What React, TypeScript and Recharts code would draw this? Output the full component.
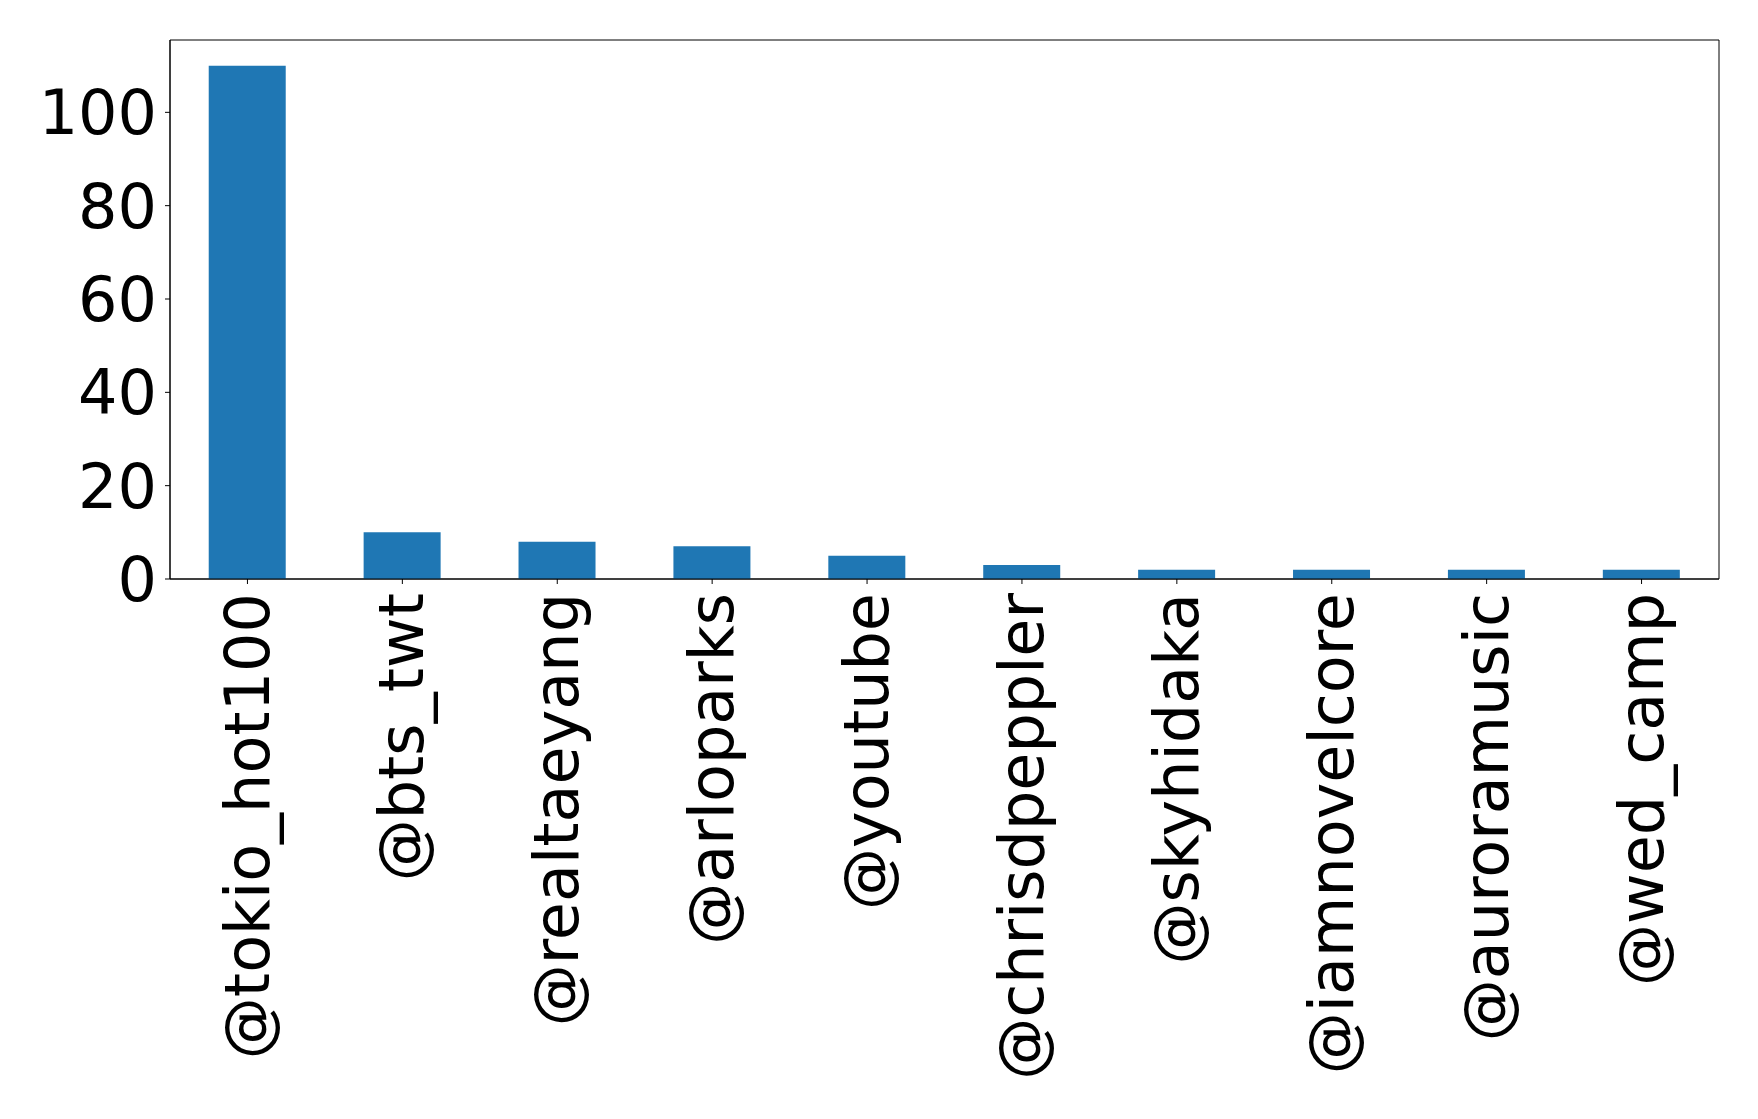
import React from 'react';
import { BarChart, Bar, XAxis, YAxis, ReferenceArea } from 'recharts';

const categories = [
  '@tokio_hot100',
  '@bts_twt',
  '@realtaeyang',
  '@arloparks',
  '@youtube',
  '@chrisdpeppler',
  '@skyhidaka',
  '@iamnovelcore',
  '@auroramusic',
  '@wed_camp',
];
const counts = [110, 10, 8, 7, 5, 3, 2, 2, 2, 2];
const yTicks = [0, 20, 40, 60, 80, 100];
const yMax = 115.5;

const data = categories.map((name, i) => ({ name, value: counts[i] }));

const FONT = '"DejaVu Sans", sans-serif';
const FS = 62;

const XTick = (props: any) => {
  const { x, y, payload } = props;
  return (
    <text
      x={x}
      y={y}
      transform={`rotate(-90, ${x}, ${y})`}
      textAnchor="end"
      dy="0.34em"
      fontSize={FS}
      fontFamily={FONT}
      fill="#000"
    >
      {payload.value}
    </text>
  );
};

export default function App() {
  return (
    <div style={{ width: 1750, height: 1111 }}>
      <BarChart
        width={1750}
        height={1111}
        data={data}
        margin={{ top: 32, right: 39, left: 0, bottom: 0 }}
        barCategoryGap="25%"
      >
        <XAxis
          dataKey="name"
          interval={0}
          height={540}
          tick={<XTick />}
          tickSize={5}
          tickMargin={9}
          axisLine={{ stroke: '#000', strokeWidth: 1 }}
          tickLine={{ stroke: '#000', strokeWidth: 1 }}
        />
        <YAxis
          type="number"
          domain={[0, yMax]}
          ticks={yTicks}
          width={162}
          tickSize={5}
          tickMargin={8}
          tick={{ fontSize: FS, fontFamily: FONT, fill: '#000' }}
          axisLine={{ stroke: '#000', strokeWidth: 1 }}
          tickLine={{ stroke: '#000', strokeWidth: 1 }}
          allowDataOverflow
        />
        <Bar dataKey="value" fill="#1f77b4" isAnimationActive={false} />
        <ReferenceArea
          y1={0}
          y2={yMax}
          fill="none"
          fillOpacity={0}
          stroke="#000"
          strokeWidth={1}
          ifOverflow="visible"
        />
      </BarChart>
    </div>
  );
}
